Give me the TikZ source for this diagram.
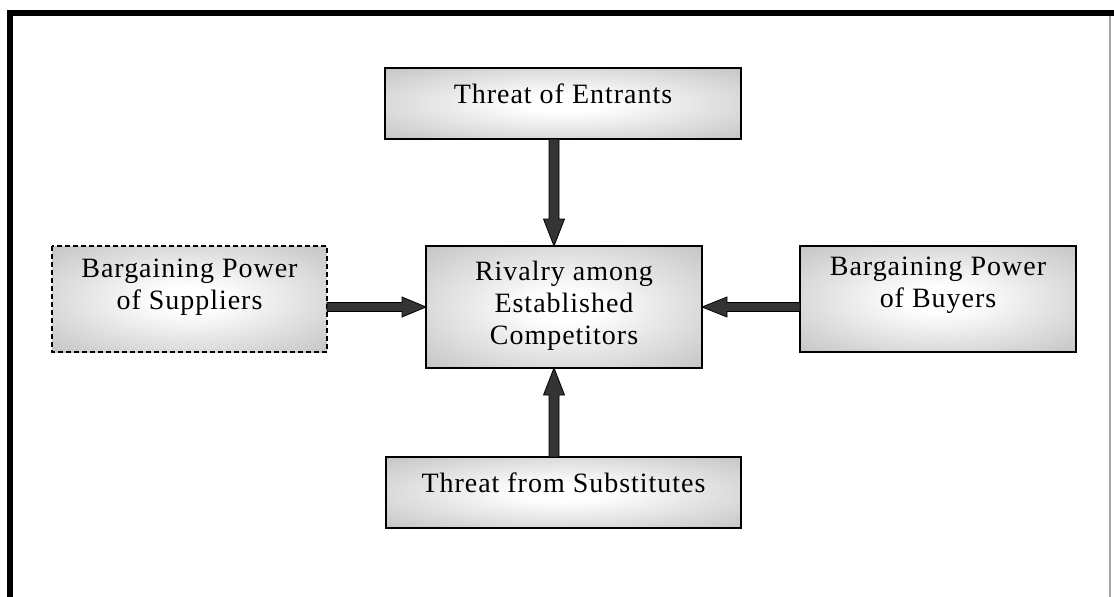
\documentclass[tikz,border=0pt]{standalone}
\usepackage{fontspec}
\setmainfont{Liberation Serif}[LetterSpace=3.5]
\usetikzlibrary{calc}
\definecolor{boxgray}{RGB}{192,192,192}
\definecolor{arrowgray}{RGB}{52,52,52}
\definecolor{framegray}{RGB}{165,165,165}
\pgfdeclareradialshading{boxglow}{\pgfpoint{0bp}{0bp}}{%
  color(0bp)=(white); color(6bp)=(white); color(38bp)=(boxgray); color(50bp)=(boxgray)}
\tikzset{
  forcebox/.style={draw=black, line width=1.3pt, shade, shading=boxglow,
    inner sep=0pt, outer sep=0pt},
  forcetext/.style={anchor=north, inner sep=0pt, align=center,
    font=\fontsize{28pt}{32pt}\selectfont},
  blockarrow/.style={fill=arrowgray, draw=black, line width=0.8pt, line join=miter}
}
\begin{document}
\begin{tikzpicture}[x=1pt, y=-1pt]
  \useasboundingbox (0,0) rectangle (1114,597);
  % frame
  \fill[black] (7,10) rectangle (1114,16);
  \fill[black] (7,10) rectangle (13,597);
  \draw[framegray, line width=1.5pt] (1110,16) -- (1110,597);

  % boxes
  \node[forcebox, minimum width=356pt, minimum height=71pt] (ent) at (563,103.5) {};
  \node[forcebox, minimum width=276pt, minimum height=122pt] (riv) at (564,307) {};
  \node[forcebox, draw=none, minimum width=275pt, minimum height=106pt] (sup) at (189.5,299) {};
  \draw[black, line width=1.5pt, dash pattern=on 5pt off 3pt] (sup.north west) rectangle (sup.south east);
  \node[forcebox, minimum width=276pt, minimum height=106pt] (buy) at (938,299) {};
  \node[forcebox, minimum width=355pt, minimum height=71pt] (sub) at (563.5,492.5) {};

  % labels
  \node[forcetext] (entT) at ([yshift=-16pt]ent.north) {Threat of Entrants};
  \node[forcetext] (rivT) at ([yshift=-15pt]riv.north) {Rivalry among\\Established\\Competitors};
  \node[forcetext] (supT) at ([yshift=-13pt]sup.north) {Bargaining Power\\of Suppliers};
  \node[forcetext] (buyT) at ([yshift=-11pt]buy.north) {Bargaining Power\\of Buyers};
  \node[forcetext] (subT) at ([yshift=-16pt]sub.north) {Threat from Substitutes};

  % arrows
  \draw[blockarrow] let \p1=(sup.east), \p2=(riv.west) in
    (\x1,\y2+4.5) -- (\x2-24,\y2+4.5) -- (\x2-24,\y2+10) -- (\x2,\y2)
    -- (\x2-24,\y2-10) -- (\x2-24,\y2-4.5) -- (\x1,\y2-4.5) -- cycle;
  \draw[blockarrow] let \p1=(buy.west), \p2=(riv.east) in
    (\x1,\y2+4.5) -- (\x2+25,\y2+4.5) -- (\x2+25,\y2+10) -- (\x2,\y2)
    -- (\x2+25,\y2-10) -- (\x2+25,\y2-4.5) -- (\x1,\y2-4.5) -- cycle;
  \draw[blockarrow] let \p1=(ent.south), \p2=($(riv.north)+(-10,0)$) in
    (\x2-5,\y1) -- (\x2-5,\y2+27) -- (\x2-10.5,\y2+27) -- (\x2,\y2)
    -- (\x2+10.5,\y2+27) -- (\x2+5,\y2+27) -- (\x2+5,\y1) -- cycle;
  \draw[blockarrow] let \p1=(sub.north), \p2=($(riv.south)+(-10,0)$) in
    (\x2-5,\y1) -- (\x2-5,\y2-27) -- (\x2-10.5,\y2-27) -- (\x2,\y2)
    -- (\x2+10.5,\y2-27) -- (\x2+5,\y2-27) -- (\x2+5,\y1) -- cycle;
\end{tikzpicture}
\end{document}
